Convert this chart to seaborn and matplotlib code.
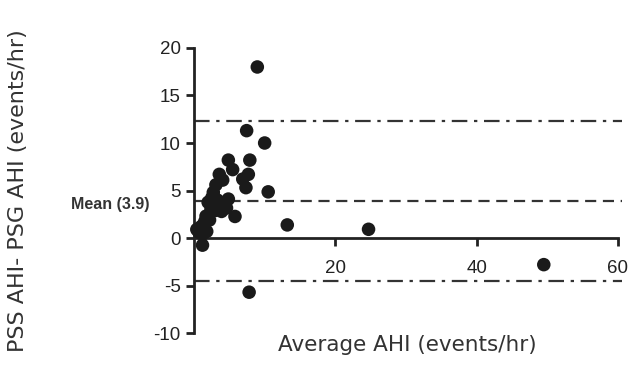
import matplotlib
matplotlib.use("Agg")
import matplotlib.pyplot as plt
import seaborn as sns
import pandas as pd

# Bland-Altman data
avg_ahi = [8.96, 7.45, 10.0, 4.86, 7.9, 5.47, 3.58, 7.69, 4.06, 6.9, 3.1, 7.35,
           2.73, 10.5, 2.5, 4.86, 3.3, 2.0, 4.6, 3.9, 3.0, 5.8, 1.7, 2.2, 1.5,
           1.0, 0.4, 1.8, 1.2, 0.7, 1.2, 13.2, 24.7, 49.5, 7.8, 2.4, 1.4]
diff_ahi = [18.0, 11.3, 10.0, 8.2, 8.2, 7.2, 6.7, 6.7, 6.1, 6.2, 5.6, 5.3,
            4.8, 4.86, 4.2, 4.1, 4.0, 3.76, 3.16, 2.8, 2.9, 2.27, 2.3, 1.9, 1.7,
            1.2, 0.9, 0.7, 0.4, 0.6, -0.75, 1.38, 0.92, -2.8, -5.7, 3.0, 1.4]
mean_diff = 3.9
upper_loa = 12.3
lower_loa = -4.5

df = pd.DataFrame({'avg': avg_ahi, 'diff': diff_ahi})

sns.set_style("ticks")
plt.rcParams['font.family'] = ['Liberation Sans', 'DejaVu Sans']
plt.rcParams['axes.unicode_minus'] = False

fig = plt.figure(figsize=(6.39, 3.90), dpi=100)
ax = fig.add_axes([0.3036, 0.146, 0.6635, 0.731])

sns.scatterplot(data=df, x='avg', y='diff', ax=ax, s=95, color='#1a1a1a',
                edgecolor='none', clip_on=False, zorder=3)

ax.plot([0, 60.5], [upper_loa, upper_loa], color='#333333', lw=1.6,
        linestyle=(0, (7, 3, 1.5, 3)), clip_on=False)
ax.plot([0, 60.5], [lower_loa, lower_loa], color='#333333', lw=1.6,
        linestyle=(0, (7, 3, 1.5, 3)), clip_on=False)
ax.plot([0, 60.5], [mean_diff, mean_diff], color='#333333', lw=1.6,
        linestyle=(0, (5, 3)), clip_on=False)

ax.set_xlim(0, 60)
ax.set_ylim(-10, 20)
ax.set_xticks([20, 40, 60])
ax.set_yticks([-10, -5, 0, 5, 10, 15, 20])

for side in ['top', 'right']:
    ax.spines[side].set_visible(False)
ax.spines['bottom'].set_position(('data', 0))
ax.spines['left'].set_linewidth(2)
ax.spines['bottom'].set_linewidth(2)
ax.spines['left'].set_color('#222222')
ax.spines['bottom'].set_color('#222222')
ax.tick_params(axis='both', width=2, length=6, labelsize=13.5,
               colors='#222222', labelcolor='#222222')
ax.tick_params(axis='x', pad=10)

ax.set_xlabel('')
ax.set_ylabel('')
fig.text(0.637, 0.115, 'Average AHI (events/hr)', ha='center', va='center',
         fontsize=15.5, color='#333333', family=['DejaVu Sans'])
fig.text(0.028, 0.51, 'PSS AHI- PSG AHI (events/hr)', ha='center', va='center',
         rotation=90, fontsize=16, color='#333333', family=['DejaVu Sans'])
fig.text(0.172, 1 - 205 / 390, 'Mean (3.9)', ha='center', va='center',
         fontsize=11.5, fontweight='bold', color='#333333')

fig.savefig('out.png', dpi=100)
